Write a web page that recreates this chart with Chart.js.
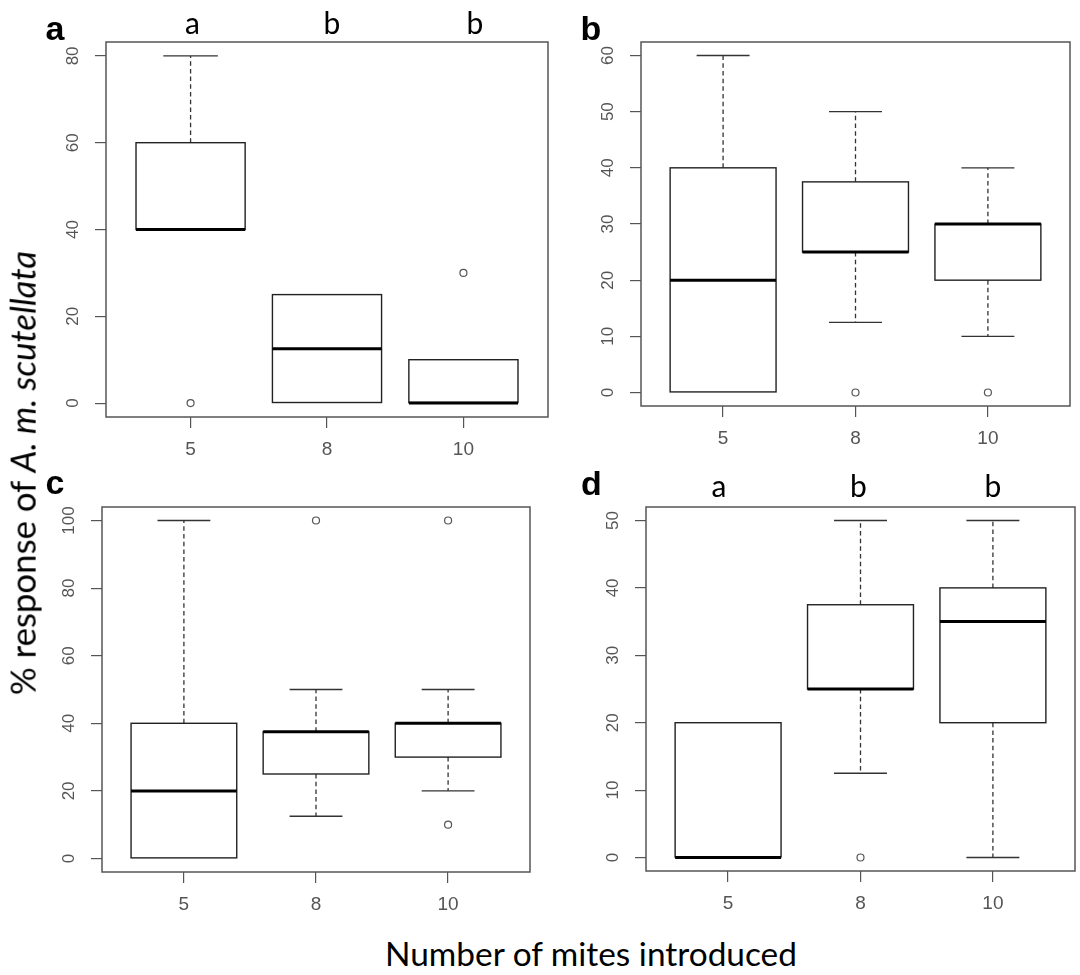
<!DOCTYPE html>
<html>
<head>
<meta charset="utf-8">
<script src="https://cdn.jsdelivr.net/npm/chart.js@4.4.1/dist/chart.umd.min.js"></script>
<style>
  html, body { margin: 0; padding: 0; background: #fff; }
  body { width: 1080px; height: 975px; position: relative; overflow: hidden; }
  .panel { position: absolute; }
  .panel canvas { display: block; }
  .txt { position: absolute; white-space: nowrap; line-height: 1; color: #000; z-index: 2; }
  .tag { font-family: "Liberation Sans", Arial, sans-serif; font-weight: bold; font-size: 34px; }
  .sig { font-family: Lato, "Open Sans", sans-serif; font-size: 30px; }
  .title { font-family: Lato, "Open Sans", sans-serif; font-size: 30px; }
</style>
</head>
<body>
<div id="panelA" class="panel"><canvas></canvas></div>
<div id="panelB" class="panel"><canvas></canvas></div>
<div id="panelC" class="panel"><canvas></canvas></div>
<div id="panelD" class="panel"><canvas></canvas></div>
<div id="ytitle" class="txt title">% response of <i>A. m. scutellata</i></div>
<div id="xtitle" class="txt title">Number of mites introduced</div>
<script>
// Number of mites introduced (x categories)
const mites = ['5', '8', '10']

// a
const aLow = [40, 0, 0]
const aQ1 = [40, 0, 0]
const aMed = [40, 12.5, 0]
const aQ3 = [60, 25, 10]
const aHigh = [80, 25, 10]
const aOut = [[0], [], [30]]
const aTicks = [0, 20, 40, 60, 80]
const aLetters = ['a', 'b', 'b']

// b
const bLow = [0, 12.5, 10]
const bQ1 = [0, 25, 20]
const bMed = [20, 25, 30]
const bQ3 = [40, 37.5, 30]
const bHigh = [60, 50, 40]
const bOut = [[], [0], [0]]
const bTicks = [0, 10, 20, 30, 40, 50, 60]

// c
const cLow = [0, 12.5, 20]
const cQ1 = [0, 25, 30]
const cMed = [20, 37.5, 40]
const cQ3 = [40, 37.5, 40]
const cHigh = [100, 50, 50]
const cOut = [[], [100], [100, 10]]
const cTicks = [0, 20, 40, 60, 80, 100]

// d
const dLow = [0, 12.5, 0]
const dQ1 = [0, 25, 20]
const dMed = [0, 25, 35]
const dQ3 = [20, 37.5, 40]
const dHigh = [20, 50, 50]
const dOut = [[], [0], []]
const dTicks = [0, 10, 20, 30, 40, 50]
const dLetters = ['a', 'b', 'b']

// plot frame of each panel on the page: left, top, right, bottom
const frames = {
  panelA: [106, 42, 548, 417],
  panelB: [641, 42, 1070, 406],
  panelC: [102, 507, 530, 872],
  panelD: [646, 507, 1075, 871],
}

const padL = 80, padT = 12, padR = 8, axisH = 55
const tickFont = { family: '"Liberation Sans", Arial, sans-serif', size: 17 }
const xTickFont = { family: '"Liberation Sans", Arial, sans-serif', size: 19 }

const measureCtx = document.createElement('canvas').getContext('2d')
function textWidth(str, font) {
  measureCtx.font = font.size + 'px ' + font.family
  return measureCtx.measureText(str).width
}

function line(ctx, x1, y1, x2, y2) {
  ctx.beginPath()
  ctx.moveTo(x1, y1)
  ctx.lineTo(x2, y2)
  ctx.stroke()
}

// box outlines, whiskers, caps, medians and the frame around the plot
function boxPlugin(s) {
  return {
    id: 'boxparts',
    afterDatasetsDraw(chart) {
      const { ctx, chartArea: area } = chart
      const y = chart.scales.y
      const bars = chart.getDatasetMeta(0).data
      ctx.save()
      bars.forEach((bar, i) => {
        const x = bar.x
        const half = bar.width / 2
        const cap = half / 2
        ctx.strokeStyle = '#333'
        ctx.lineWidth = 1.3
        const ends = [[s.q3[i], s.high[i]], [s.q1[i], s.low[i]]]
        ends.forEach(([from, to]) => {
          if (from === to) return
          const y1 = y.getPixelForValue(from)
          const y2 = y.getPixelForValue(to)
          ctx.setLineDash([4.5, 3.2])
          line(ctx, x, y1, x, y2)
          ctx.setLineDash([])
          line(ctx, x - cap, y2, x + cap, y2)
        })
        const top = Math.min(bar.y, bar.base)
        const h = Math.abs(bar.base - bar.y)
        ctx.strokeStyle = '#222'
        ctx.lineWidth = 1.4
        ctx.strokeRect(x - half, top, bar.width, h)
        const ym = y.getPixelForValue(s.med[i])
        ctx.strokeStyle = '#000'
        ctx.lineWidth = 3
        line(ctx, x - half, ym, x + half, ym)
      })
      ctx.strokeStyle = '#555'
      ctx.lineWidth = 1.5
      ctx.strokeRect(area.left, area.top, area.right - area.left, area.bottom - area.top)
      ctx.restore()
    },
  }
}

function makePanel(id, s, ticks) {
  const [L, T, R, B] = frames[id]
  const wrap = document.getElementById(id)
  const canvas = wrap.querySelector('canvas')
  const width = R - L + padL + padR
  const height = B - T + padT + axisH
  wrap.style.left = L - padL + 'px'
  wrap.style.top = T - padT + 'px'
  canvas.width = width
  canvas.height = height
  canvas.style.width = width + 'px'
  canvas.style.height = height + 'px'

  // R style limits: data range widened by 4%
  const all = s.low.concat(s.high, s.out.flat())
  const lo = Math.min(...all)
  const hi = Math.max(...all)
  const pad = (hi - lo) * 0.04
  const n = mites.length
  const widest = Math.max(...ticks.map((t) => textWidth(String(t), tickFont)))

  new Chart(canvas, {
    type: 'bar',
    data: {
      datasets: [
        {
          type: 'bar',
          data: mites.map((m, i) => ({ x: i + 1, y: [s.q1[i], s.q3[i]] })),
          backgroundColor: '#fff',
          borderWidth: 0,
          barPercentage: 0.8,
          categoryPercentage: 1,
        },
        {
          type: 'scatter',
          data: s.out.flatMap((vals, i) => vals.map((v) => ({ x: i + 1, y: v }))),
          pointRadius: 3.5,
          pointBorderWidth: 1.2,
          pointBorderColor: '#555',
          pointBackgroundColor: 'rgba(255,255,255,0)',
        },
      ],
    },
    options: {
      responsive: false,
      animation: false,
      events: [],
      layout: { padding: { left: 0, top: padT, right: padR, bottom: 0 } },
      plugins: { legend: { display: false }, tooltip: { enabled: false } },
      scales: {
        x: {
          type: 'linear',
          min: 0.5 - 0.04 * n,
          max: n + 0.5 + 0.04 * n,
          offset: false,
          bounds: 'data',
          afterBuildTicks: (sc) => {
            sc.ticks = mites.map((m, i) => ({ value: i + 1 }))
          },
          afterFit: (sc) => {
            sc.height = axisH
            sc.paddingLeft = 0
            sc.paddingRight = 0
          },
          ticks: {
            callback: (v, i) => mites[i],
            color: '#555',
            font: xTickFont,
            padding: 10,
            maxRotation: 0,
            autoSkip: false,
          },
          grid: { drawOnChartArea: false, tickLength: 11, lineWidth: 1.2, color: '#555', offset: false },
          border: { display: false },
        },
        y: {
          min: lo - pad,
          max: hi + pad,
          afterBuildTicks: (sc) => {
            sc.ticks = ticks.map((v) => ({ value: v }))
          },
          afterFit: (sc) => {
            sc.width = padL
            sc.paddingTop = 0
            sc.paddingBottom = 0
          },
          ticks: {
            color: '#555',
            font: tickFont,
            padding: 22 - widest / 2,
            minRotation: 90,
            maxRotation: 90,
            crossAlign: 'center',
            autoSkip: false,
          },
          grid: { drawOnChartArea: false, tickLength: 11, lineWidth: 1.2, color: '#555' },
          border: { display: false },
        },
      },
    },
    plugins: [boxPlugin(s)],
  })
}

makePanel('panelA', { low: aLow, q1: aQ1, med: aMed, q3: aQ3, high: aHigh, out: aOut }, aTicks)
makePanel('panelB', { low: bLow, q1: bQ1, med: bMed, q3: bQ3, high: bHigh, out: bOut }, bTicks)
makePanel('panelC', { low: cLow, q1: cQ1, med: cMed, q3: cQ3, high: cHigh, out: cOut }, cTicks)
makePanel('panelD', { low: dLow, q1: dQ1, med: dMed, q3: dQ3, high: dHigh, out: dOut }, dTicks)

// text placed by centre x and baseline y
function addText(cls, str, cx, baseline, ascentRatio) {
  const el = document.createElement('div')
  el.className = 'txt ' + cls
  el.textContent = str
  document.body.appendChild(el)
  const size = parseFloat(getComputedStyle(el).fontSize)
  el.style.left = cx + 'px'
  el.style.top = baseline - ascentRatio * size + 'px'
  el.style.transform = 'translateX(-50%)'
  return el
}

// panel tags
addText('tag', 'a', 55, 39.5, 0.8465)
addText('tag', 'b', 591, 40, 0.8465)
addText('tag', 'c', 55, 493.5, 0.8465)
addText('tag', 'd', 591.5, 495, 0.8465)

// significance letters
const aLetterX = [192.5, 332, 475]
const dLetterX = [719, 858.5, 993]
aLetters.forEach((l, i) => addText('sig', l, aLetterX[i], 33.5, 0.887))
dLetters.forEach((l, i) => addText('sig', l, dLetterX[i], 496.5, 0.887))

// axis titles, sized to the reference lengths
function fitWidth(el, target) {
  const size = parseFloat(getComputedStyle(el).fontSize)
  el.style.fontSize = (size * target) / el.offsetWidth + 'px'
}

const xt = document.getElementById('xtitle')
fitWidth(xt, 412)
const xs = parseFloat(xt.style.fontSize)
xt.style.left = '591px'
xt.style.top = 967 - 0.887 * xs + 'px'
xt.style.transform = 'translateX(-50%)'

const yt = document.getElementById('ytitle')
fitWidth(yt, 445)
yt.style.left = '23px'
yt.style.top = '472.5px'
yt.style.transform = 'translate(-50%, -50%) rotate(-90deg)'
</script>
</body>
</html>
